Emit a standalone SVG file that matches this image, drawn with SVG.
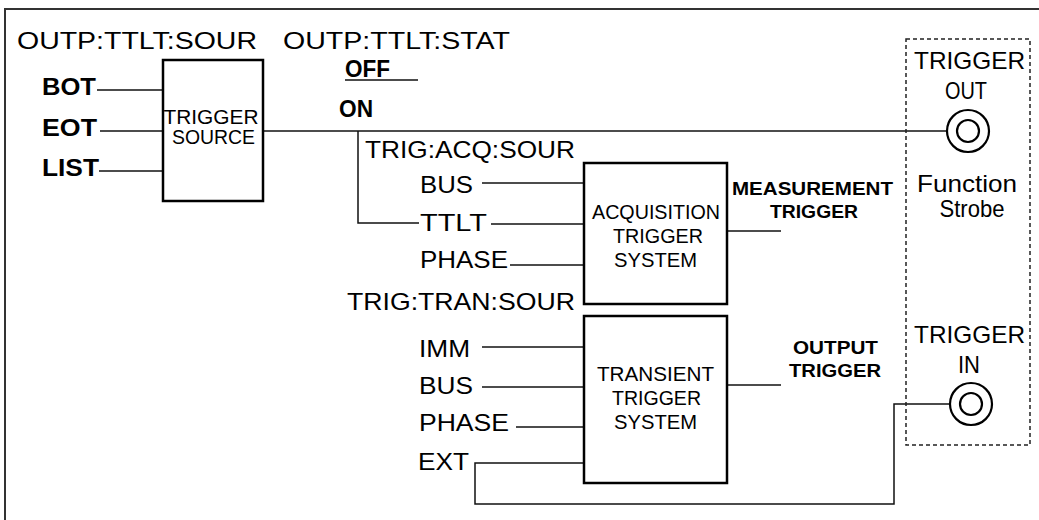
<svg xmlns="http://www.w3.org/2000/svg" width="1039" height="520" viewBox="0 0 1039 520">
<style>
text{font-family:"Liberation Sans",Arial,sans-serif;fill:#000}
.lbl{font-size:24px}
.b{font-size:23px;font-weight:bold}
.sb{font-size:18px;font-weight:bold}
.box{font-size:19.5px}
.ln{fill:none;stroke:#111;stroke-width:1.5}
.bx{fill:#fff;stroke:#000;stroke-width:2.5}
.dash{fill:none;stroke:#222;stroke-width:1.5;stroke-dasharray:4 3}
.jack{fill:#fff;stroke:#000;stroke-width:2.2}
</style>
<rect width="1039" height="520" fill="#fff"/>
<g id="frame"><path d="M5,520 V9 H1039" fill="none" stroke="#333" stroke-width="2"/></g>

<g id="connectors">
<line class="ln" x1="97" y1="90" x2="163" y2="90"/>
<line class="ln" x1="100" y1="131" x2="163" y2="131"/>
<line class="ln" x1="99" y1="171" x2="163" y2="171"/>
<line class="ln" x1="263" y1="131" x2="947" y2="131"/>
<line class="ln" x1="345" y1="80" x2="418" y2="80"/>
<polyline class="ln" points="358,131 358,223 419,223"/>
<line class="ln" x1="482" y1="183" x2="584" y2="183"/>
<line class="ln" x1="491" y1="224" x2="584" y2="224"/>
<line class="ln" x1="510" y1="265" x2="584" y2="265"/>
<line class="ln" x1="727" y1="231" x2="781" y2="231"/>
<line class="ln" x1="482" y1="347" x2="584" y2="347"/>
<line class="ln" x1="482" y1="387" x2="584" y2="387"/>
<line class="ln" x1="516" y1="427" x2="584" y2="427"/>
<polyline class="ln" points="584,463 475,463 475,504 894,504 894,404 950,404"/>
<line class="ln" x1="727" y1="385" x2="781" y2="385"/>
</g>

<g id="labels-top">
<text class="lbl" x="17" y="49" textLength="240" lengthAdjust="spacingAndGlyphs">OUTP:TTLT:SOUR</text>
<text class="lbl" x="283" y="49" textLength="227" lengthAdjust="spacingAndGlyphs">OUTP:TTLT:STAT</text>
<text class="b" x="345" y="77" textLength="45" lengthAdjust="spacingAndGlyphs">OFF</text>
<text class="b" x="339" y="117" textLength="34" lengthAdjust="spacingAndGlyphs">ON</text>
</g>

<g id="source-inputs">
<text class="b" x="42" y="95" textLength="54" lengthAdjust="spacingAndGlyphs">BOT</text>
<text class="b" x="42" y="136" textLength="55" lengthAdjust="spacingAndGlyphs">EOT</text>
<text class="b" x="42" y="176" textLength="57" lengthAdjust="spacingAndGlyphs">LIST</text>
</g>

<g id="trigger-source">
<rect class="bx" x="163" y="60" width="100" height="141"/>
<text class="box" x="163.5" y="124" textLength="95" lengthAdjust="spacingAndGlyphs">TRIGGER</text>
<text class="box" x="172" y="144" textLength="83" lengthAdjust="spacingAndGlyphs">SOURCE</text>
</g>

<g id="acq-inputs">
<text class="lbl" x="365" y="158" textLength="210" lengthAdjust="spacingAndGlyphs">TRIG:ACQ:SOUR</text>
<text class="lbl" x="420" y="193" textLength="53" lengthAdjust="spacingAndGlyphs">BUS</text>
<text class="lbl" x="420" y="231" textLength="67" lengthAdjust="spacingAndGlyphs">TTLT</text>
<text class="lbl" x="420" y="268" textLength="88" lengthAdjust="spacingAndGlyphs">PHASE</text>
</g>

<g id="acquisition-trigger-system">
<rect class="bx" x="584" y="163" width="143" height="141"/>
<text class="box" x="592" y="219" textLength="128" lengthAdjust="spacingAndGlyphs">ACQUISITION</text>
<text class="box" x="613" y="243" textLength="90" lengthAdjust="spacingAndGlyphs">TRIGGER</text>
<text class="box" x="614" y="267" textLength="83" lengthAdjust="spacingAndGlyphs">SYSTEM</text>
</g>

<g id="measurement-trigger">
<text class="sb" x="732" y="195" textLength="161" lengthAdjust="spacingAndGlyphs">MEASUREMENT</text>
<text class="sb" x="770" y="218" textLength="88" lengthAdjust="spacingAndGlyphs">TRIGGER</text>
</g>

<g id="tran-inputs">
<text class="lbl" x="347" y="310" textLength="228" lengthAdjust="spacingAndGlyphs">TRIG:TRAN:SOUR</text>
<text class="lbl" x="419" y="357" textLength="51" lengthAdjust="spacingAndGlyphs">IMM</text>
<text class="lbl" x="419" y="394" textLength="54" lengthAdjust="spacingAndGlyphs">BUS</text>
<text class="lbl" x="419" y="431" textLength="90" lengthAdjust="spacingAndGlyphs">PHASE</text>
<text class="lbl" x="418" y="470" textLength="51" lengthAdjust="spacingAndGlyphs">EXT</text>
</g>

<g id="transient-trigger-system">
<rect class="bx" x="584" y="316" width="143" height="167"/>
<text class="box" x="597" y="381" textLength="117" lengthAdjust="spacingAndGlyphs">TRANSIENT</text>
<text class="box" x="612" y="405" textLength="89" lengthAdjust="spacingAndGlyphs">TRIGGER</text>
<text class="box" x="614" y="429" textLength="83" lengthAdjust="spacingAndGlyphs">SYSTEM</text>
</g>

<g id="output-trigger">
<text class="sb" x="793" y="354" textLength="85" lengthAdjust="spacingAndGlyphs">OUTPUT</text>
<text class="sb" x="789" y="377" textLength="92" lengthAdjust="spacingAndGlyphs">TRIGGER</text>
</g>

<g id="function-strobe">
<rect class="dash" x="906" y="39" width="124" height="406"/>
<text class="lbl" x="967" y="192" text-anchor="middle" textLength="100" lengthAdjust="spacingAndGlyphs">Function</text>
<text class="lbl" x="972" y="217" text-anchor="middle" textLength="65" lengthAdjust="spacingAndGlyphs">Strobe</text>
</g>

<g id="trigger-out">
<text class="lbl" x="914" y="69" textLength="111" lengthAdjust="spacingAndGlyphs">TRIGGER</text>
<text class="lbl" x="945" y="99" textLength="42" lengthAdjust="spacingAndGlyphs">OUT</text>
<circle class="jack" cx="968" cy="131" r="21"/>
<circle class="jack" cx="968" cy="131" r="11"/>
</g>

<g id="trigger-in">
<text class="lbl" x="914" y="343" textLength="111" lengthAdjust="spacingAndGlyphs">TRIGGER</text>
<text class="lbl" x="958" y="373" textLength="22" lengthAdjust="spacingAndGlyphs">IN</text>
<circle class="jack" cx="971" cy="404" r="21"/>
<circle class="jack" cx="971" cy="404" r="11"/>
</g>
</svg>
